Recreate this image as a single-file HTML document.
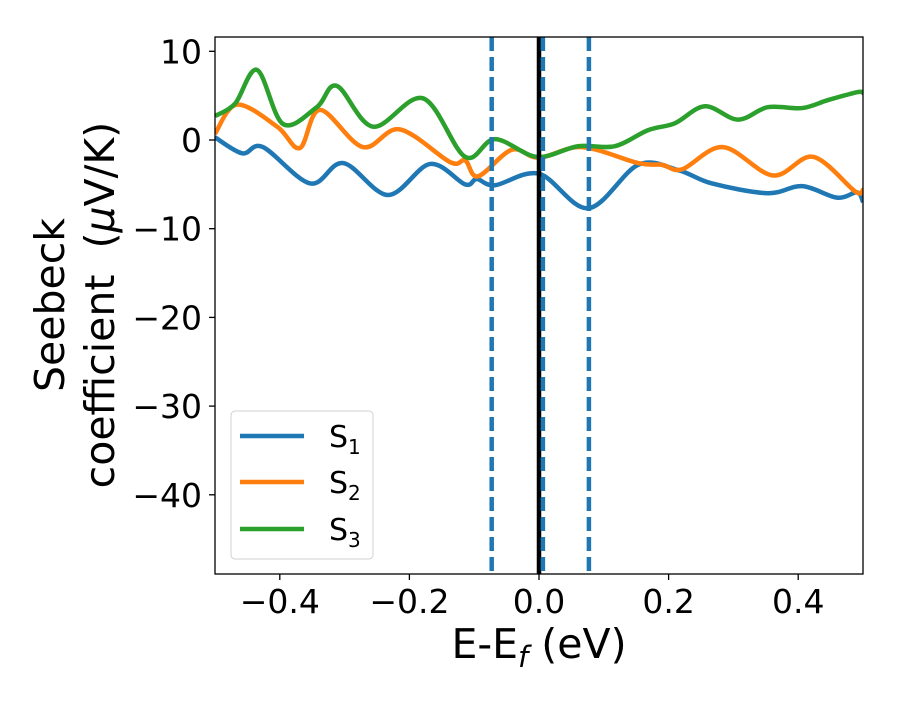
<!DOCTYPE html>
<html><head><meta charset="utf-8"><style>
body{margin:0;background:#fff}
svg text{font-family:"DejaVu Sans","Liberation Sans",sans-serif;fill:#000}
</style></head><body>
<svg id="chart" width="900" height="700" xmlns="http://www.w3.org/2000/svg">
<rect width="900" height="700" fill="#fff"/>
<defs><clipPath id="clip"><rect x="215" y="37" width="648" height="537"/></clipPath></defs>
<g id="series" clip-path="url(#clip)"></g>
<g id="vlines" clip-path="url(#clip)"></g>
<rect x="215" y="37" width="648" height="537" fill="none" stroke="#000" stroke-width="1.3"/>
<g id="ticks"></g>
<text x="76" y="305" font-size="41" text-anchor="middle" transform="rotate(-90 76 305)"><tspan x="76" dy="-12">Seebeck</tspan><tspan x="76" dy="50">coefficient&#160; (<tspan font-style="italic">μ</tspan>V/K)</tspan></text>
<text x="539" y="658" font-size="41" text-anchor="middle">E-E<tspan font-size="29" dy="9" font-style="italic">f</tspan><tspan dy="-9"> (eV)</tspan></text>
<g>
<rect x="231" y="411" width="142" height="148" rx="4" fill="#fff" stroke="#ccc" stroke-width="1" opacity="0.9"/>
<line x1="240" y1="436" x2="304" y2="436" stroke="#1f77b4" stroke-width="4.5"/>
<text x="329" y="447" font-size="30">S<tspan font-size="20" dy="7">1</tspan></text>
<line x1="240" y1="482" x2="304" y2="482" stroke="#ff7f0e" stroke-width="4.5"/>
<text x="329" y="493" font-size="30">S<tspan font-size="20" dy="7">2</tspan></text>
<line x1="240" y1="529" x2="304" y2="529" stroke="#2ca02c" stroke-width="4.5"/>
<text x="329" y="540" font-size="30">S<tspan font-size="20" dy="7">3</tspan></text>
</g>
</svg>
<script>
const s1x=[-0.5,-0.458,-0.426,-0.353,-0.302,-0.233,-0.168,-0.114,-0.096,-0.068,0.0,0.076,0.153,0.215,0.267,0.353,0.406,0.46,0.491,0.5];
const s1y=[0.3,-1.5,-0.8,-4.9,-2.6,-6.2,-2.7,-5.0,-4.4,-5.1,-3.8,-7.7,-2.8,-3.4,-4.9,-6.0,-5.2,-6.5,-5.9,-7.0];
const s2x=[-0.5,-0.466,-0.404,-0.369,-0.338,-0.272,-0.215,-0.137,-0.114,-0.094,-0.042,0.0,0.066,0.153,0.19,0.221,0.284,0.361,0.423,0.488,0.5];
const s2y=[0.7,4.0,1.5,-0.9,3.4,-0.8,1.2,-2.5,-2.3,-4.1,-1.1,-2.0,-0.8,-2.6,-2.8,-3.3,-0.8,-4.0,-1.9,-5.8,-5.6];
const s3x=[-0.5,-0.469,-0.435,-0.395,-0.343,-0.312,-0.256,-0.179,-0.114,-0.068,-0.003,0.06,0.117,0.168,0.21,0.256,0.307,0.353,0.406,0.446,0.492,0.5];
const s3y=[2.7,4.1,7.9,1.8,3.7,6.1,1.5,4.7,-1.9,0.1,-1.9,-0.7,-0.7,1.1,1.9,3.8,2.3,3.7,3.6,4.5,5.4,5.3];
const dashedX=[-0.073,0.006,0.077];
const fermiX=[0.0];
const xTicks=[-0.4,-0.2,0.0,0.2,0.4];
const xTickLabels=["−0.4","−0.2","0.0","0.2","0.4"];
const yTicks=[10,0,-10,-20,-30,-40];
const yTickLabels=["10","0","−10","−20","−30","−40"];

const NS="http://www.w3.org/2000/svg";
const X=v=>215+(v+0.5)*648;
const Y=v=>140-v*8.87;
function mk(tag,attrs,parent){const e=document.createElementNS(NS,tag);for(const k in attrs)e.setAttribute(k,attrs[k]);parent.appendChild(e);return e;}
function smooth(xs,ys){
  const p=xs.map((x,i)=>[X(x),Y(ys[i])]);
  let d="M"+p[0][0]+","+p[0][1];
  for(let i=0;i<p.length-1;i++){
    const a=p[Math.max(0,i-1)],b=p[i],c=p[i+1],e=p[Math.min(p.length-1,i+2)];
    const c1=[b[0]+(c[0]-a[0])/6,b[1]+(c[1]-a[1])/6],c2=[c[0]-(e[0]-b[0])/6,c[1]-(e[1]-b[1])/6];
    d+=" C"+c1[0]+","+c1[1]+" "+c2[0]+","+c2[1]+" "+c[0]+","+c[1];
  }
  return d;
}
const sg=document.getElementById('series');
const series=[[s1x,s1y,"#1f77b4","series-s1"],[s2x,s2y,"#ff7f0e","series-s2"],[s3x,s3y,"#2ca02c","series-s3"]];
for(const [xs,ys,c,n] of series){
  const el=mk('path',{d:smooth(xs,ys),fill:"none",stroke:c,"stroke-width":4.5,"stroke-linejoin":"round"},sg);
  
  
}
const vg=document.getElementById('vlines');
for(const v of fermiX){
  const el=mk('line',{x1:X(v),x2:X(v),y1:37,y2:574,stroke:"#000","stroke-width":4.5},vg);
  
  
}
for(const v of dashedX){
  const el=mk('line',{x1:X(v),x2:X(v),y1:37,y2:574,stroke:"#1f77b4","stroke-width":4.5,"stroke-dasharray":"14,6"},vg);
  
  
}
const tg=document.getElementById('ticks');
xTicks.forEach((v,i)=>{
  mk('line',{x1:X(v),x2:X(v),y1:574,y2:580,stroke:"#000","stroke-width":1.3},tg);
  const t=mk('text',{x:X(v),y:613,"font-size":33,"text-anchor":"middle"},tg);
  t.textContent=xTickLabels[i];
  
  
});
yTicks.forEach((v,i)=>{
  mk('line',{x1:209,x2:215,y1:Y(v),y2:Y(v),stroke:"#000","stroke-width":1.3},tg);
  const t=mk('text',{x:202,y:Y(v)+12,"font-size":33,"text-anchor":"end"},tg);
  t.textContent=yTickLabels[i];
  
  
});
</script>
</body></html>
